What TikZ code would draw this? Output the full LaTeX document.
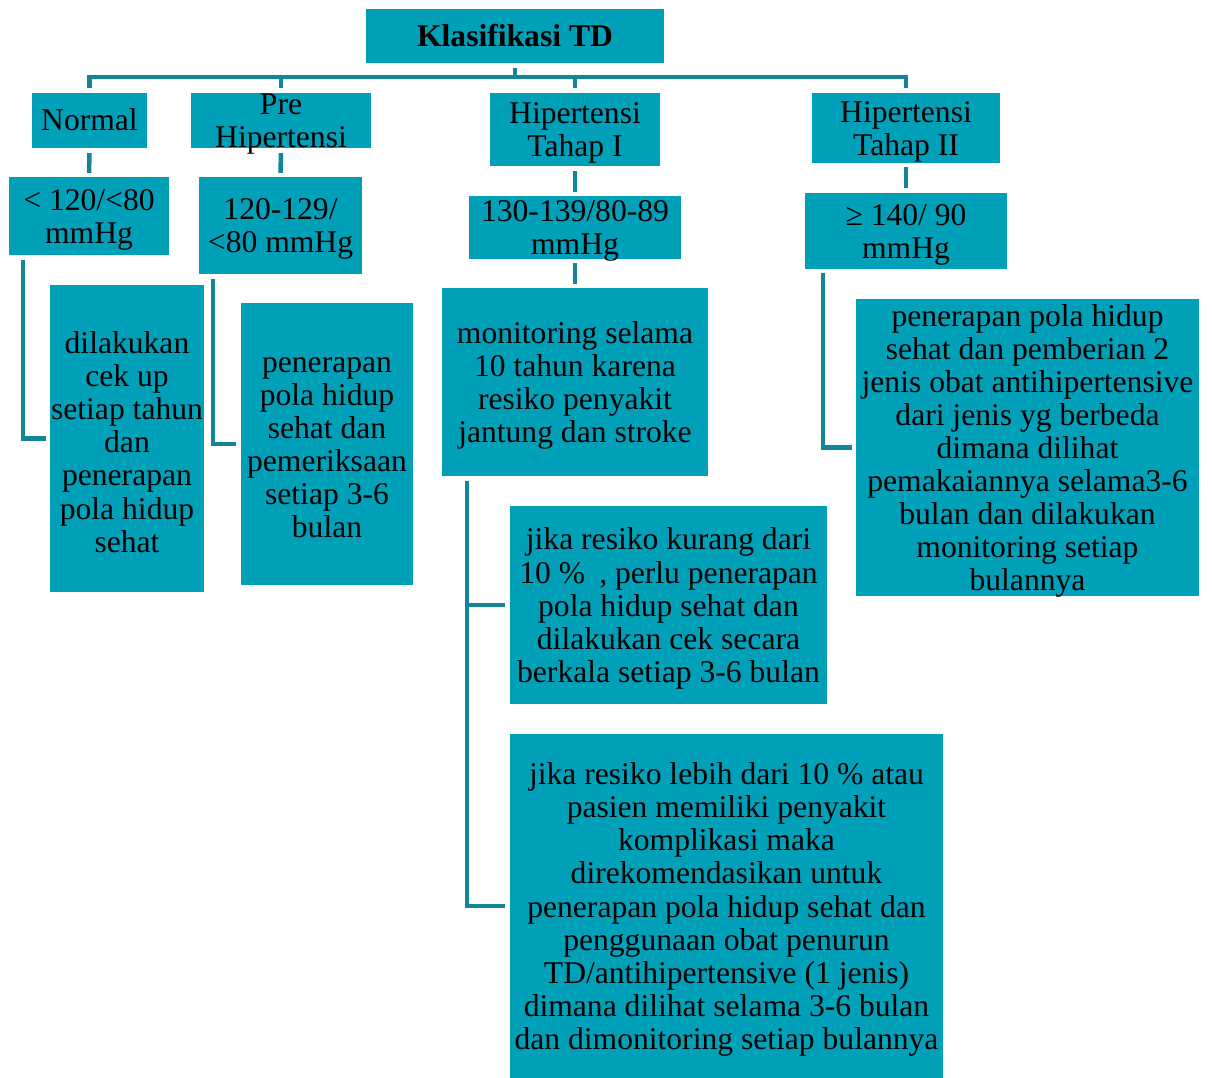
\documentclass[tikz,border=0pt]{standalone}
\usepackage{fontspec}
\setmainfont{Liberation Serif}
\definecolor{tdfill}{RGB}{0,160,184}
\definecolor{tdline}{RGB}{16,134,152}
\tikzset{
  fillbox/.style={fill=tdfill, draw=none, inner sep=0pt},
  boxtext/.style={inner sep=0pt, align=center, text=black, yshift=-3.5pt,
    font=\fontsize{31.6}{33.1}\selectfont},
  conn/.style={draw=tdline, line width=4.5pt, line join=miter},
}
% #1 extra text style, #2 name, #3 centre, #4 width, #5 height, #6 text
\newcommand\tdbox[6][]{%
  \node[fillbox, minimum width=#4, minimum height=#5] (#2) at #3 {};
  \node[boxtext, #1] (#2-t) at (#2.center) {#6};}
\begin{document}
\begin{tikzpicture}[x=1pt, y=-1pt]
\useasboundingbox (0,0) rectangle (1212,1078);

% level 0
\tdbox[yshift=4pt, font=\fontsize{31.6}{33.1}\selectfont\bfseries]{root}{(515,36)}{298pt}{54pt}{Klasifikasi TD}

% level 1: categories
\tdbox[yshift=4pt]{normal}{(89.5,120.5)}{115pt}{55pt}{Normal}
\tdbox{pre}{(281,120.5)}{180pt}{55pt}{Pre\\Hipertensi}
\tdbox{tahap1}{(575,129.5)}{170pt}{73pt}{Hipertensi\\Tahap I}
\tdbox{tahap2}{(906,128)}{188pt}{70pt}{Hipertensi\\Tahap II}

% level 2: pressure ranges
\tdbox{normval}{(89,216)}{160pt}{78pt}{< 120/<80\\mmHg}
\tdbox{preval}{(280.5,225.5)}{163pt}{97pt}{120-129/\\<80 mmHg}
\tdbox{tval}{(575,227.5)}{212pt}{63pt}{130-139/80-89\\mmHg}
\tdbox{tvalb}{(906,231)}{202pt}{76pt}{≥ 140/ 90\\mmHg}

% level 3: recommendations
\tdbox{normact}{(127,438.5)}{154pt}{307pt}{dilakukan\\cek up\\setiap tahun\\dan\\penerapan\\pola hidup\\sehat}
\tdbox{preact}{(327,444)}{172pt}{282pt}{penerapan\\pola hidup\\sehat dan\\pemeriksaan\\setiap 3-6\\bulan}
\tdbox{monitor}{(575,382)}{266pt}{188pt}{monitoring selama\\10 tahun karena\\resiko penyakit\\jantung dan stroke}
\tdbox{tactb}{(1027.5,447.5)}{343pt}{297pt}{penerapan pola hidup\\sehat dan pemberian 2\\jenis obat antihipertensive\\dari jenis yg berbeda\\dimana dilihat\\pemakaiannya selama3-6\\bulan dan dilakukan\\monitoring setiap\\bulannya}

% level 4: risk-dependent follow-up
\tdbox{riska}{(668.5,605)}{317pt}{198pt}{jika resiko kurang dari\\10 \%\hspace{0.45em}, perlu penerapan\\pola hidup sehat dan\\dilakukan cek secara\\berkala setiap 3-6 bulan}
\tdbox{riskb}{(726.5,906)}{433pt}{344pt}{jika resiko lebih dari 10 \% atau\\pasien memiliki penyakit\\komplikasi maka\\direkomendasikan untuk\\penerapan pola hidup sehat dan\\penggunaan obat penurun\\TD/antihipertensive (1 jenis)\\dimana dilihat selama 3-6 bulan\\dan dimonitoring setiap bulannya}

% bus from the root to the four categories
\coordinate (bus) at (515,77);
\draw[conn] ([yshift=-5pt]root.south) -- (root.south |- bus);
\draw[conn] ([yshift=5pt]normal.north) |- (bus) -| ([yshift=5pt]tahap2.north);
\draw[conn] ([yshift=5pt]pre.north) -- (pre.north |- bus);
\draw[conn] ([yshift=5pt]tahap1.north) -- (tahap1.north |- bus);

% category to pressure range
\draw[conn] ([yshift=-5pt]normal.south) -- ([yshift=4pt]normval.north);
\draw[conn] ([yshift=-5pt]pre.south) -- ([yshift=4pt]preval.north);
\draw[conn] ([yshift=-5pt]tahap1.south) -- ([yshift=4pt]tval.north);
\draw[conn] ([yshift=-4pt]tahap2.south) -- ([yshift=5pt]tvalb.north);
\draw[conn] ([yshift=-4pt]tval.south) -- ([yshift=4pt]monitor.north);

% elbow connectors to the recommendations
\draw[conn] ([shift={(14,5)}]normval.south west) |- ([xshift=-4pt]normact.west);
\draw[conn] ([shift={(14,5)}]preval.south west) |- ([xshift=-5pt]preact.west);
\draw[conn] ([shift={(18,4)}]tvalb.south west) |- ([xshift=-4pt]tactb.west);
\draw[conn] ([shift={(25,5)}]monitor.south west) |- ([xshift=-5pt]riska.west);
\draw[conn] ([shift={(25,5)}]monitor.south west) |- ([xshift=-5pt]riskb.west);
\end{tikzpicture}
\end{document}
